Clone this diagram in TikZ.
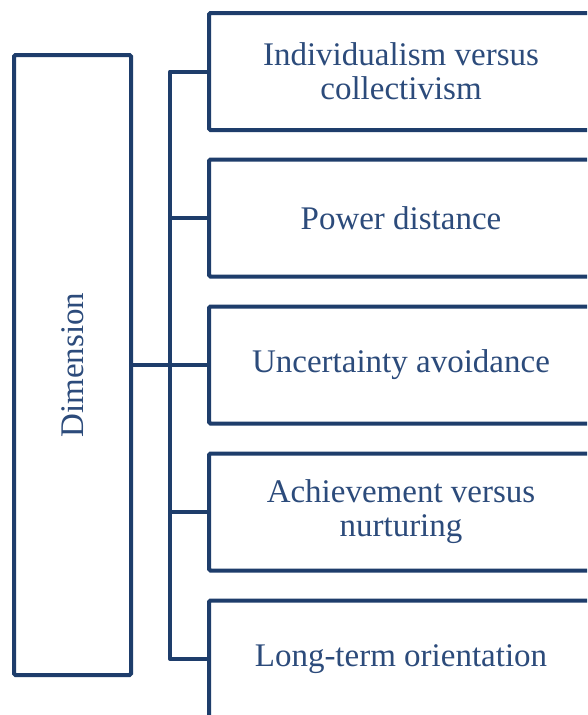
\documentclass[tikz,border=0pt]{standalone}
\usepackage{fontspec}
\setmainfont{Liberation Serif}
\definecolor{linec}{HTML}{1E3D6B}
\definecolor{textc}{HTML}{2C4B7B}
\tikzset{
  x=1pt, y=-1pt,
  boxstyle/.style={draw=linec, line width=4pt, rounded corners=1.5pt, fill=white,
    text=textc, align=center, inner sep=0pt,
    font=\fontsize{33}{34}\selectfont},
  itembox/.style={boxstyle, minimum width=384pt, minimum height=117pt},
  conn/.style={draw=linec, line width=4pt, line join=round},
}
\begin{document}
\begin{tikzpicture}
\useasboundingbox (0,0) rectangle (587,715);
\clip (0,0) rectangle (587,715);
\fill[white] (0,0) rectangle (587,715);

% root box with rotated label
\node[boxstyle, minimum width=117pt, minimum height=620pt] (dim) at (72.5,365) {};
\node[text=textc, font=\fontsize{33}{34}\selectfont, rotate=90] (dimlabel) at (dim.center) {Dimension};

% the five dimensions
\node[itembox] (b1) at (401,71.5) {Individualism versus\\collectivism};
\node[itembox] (b2) at (401,218) {Power distance};
\node[itembox] (b3) at (401,365) {Uncertainty avoidance};
\node[itembox] (b4) at (401,512) {Achievement versus\\nurturing};
\node[itembox] (b5) at (401,659) {Long-term orientation};

% vertical bus joining the boxes
\coordinate (bt) at (170,71.5);
\coordinate (bb) at (170,659);
\draw[conn] (b1.west) -- (bt) -- (bb) -- (b5.west);
\draw[conn] (b2.west) -- (b2.west -| bt);
\draw[conn] (b4.west) -- (b4.west -| bt);
\draw[conn] (dim.east) -- (b3.west);
\end{tikzpicture}
\end{document}
